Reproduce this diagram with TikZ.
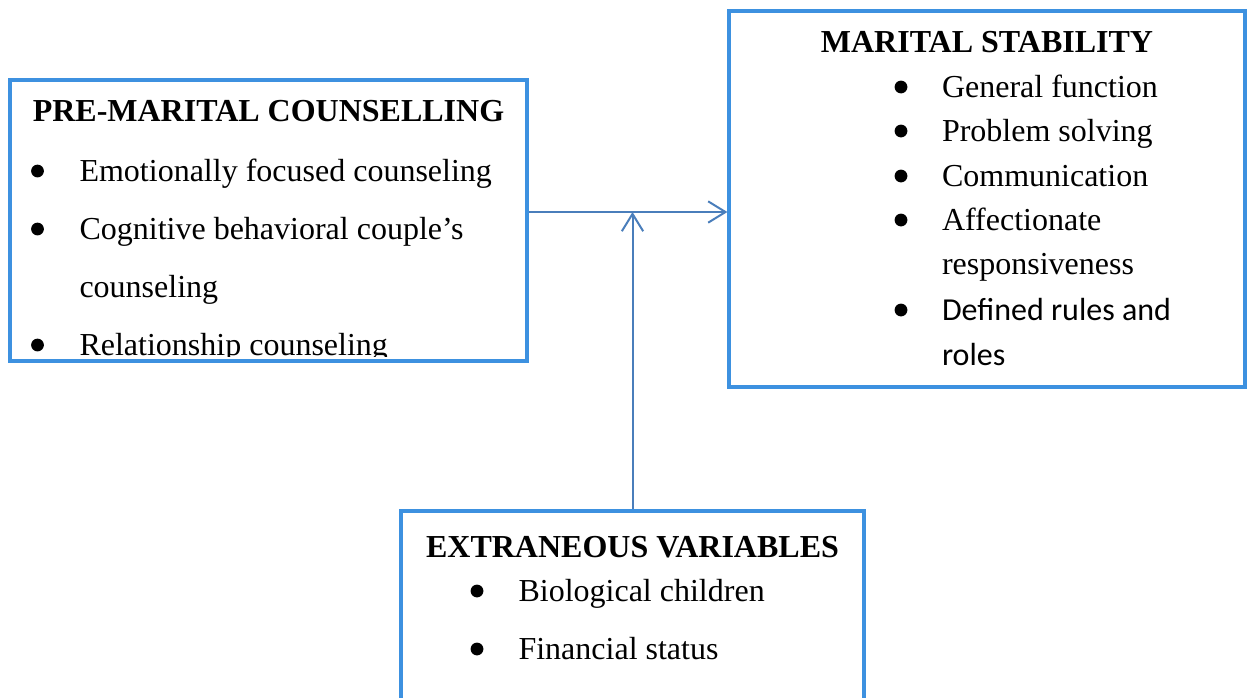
\documentclass[tikz,border=0pt]{standalone}
\usepackage{fontspec}
\setmainfont{Liberation Serif}
\newfontfamily\calfont{Carlito}
\usetikzlibrary{arrows.meta}
\definecolor{boxblue}{RGB}{61,145,224}
\definecolor{lineblue}{RGB}{74,126,187}
\tikzset{
  box/.style={draw=boxblue, line width=1.2pt, inner sep=0pt},
  conn/.style={lineblue, line width=0.75pt, -{Straight Barb[length=6.5pt,width=8pt]}},
  head/.style={anchor=base, inner sep=0pt, font=\fontsize{12}{14}\selectfont\bfseries},
  item/.style={anchor=base west, inner sep=0pt, font=\fontsize{12}{14}\selectfont},
  dot/.style={circle, fill=black, inner sep=0pt, minimum size=4.8pt}
}
\begin{document}
\begin{tikzpicture}[x=0.375pt, y=-0.375pt]
  \useasboundingbox (0,0) rectangle (1248,697);
  \clip (0,0) rectangle (1248,697);
  % boxes
  \node[box, minimum width=193.9pt, minimum height=105.4pt] (pmc) at (268.5,220.5) {};
  \node[box, minimum width=193.5pt, minimum height=141pt] (ms) at (987,199) {};
  \node[box, minimum width=173.6pt, minimum height=75pt] (ev) at (632.5,611) {};
  % pre-marital counselling
  \node[head] (pmchead) at (268.5,121) {PRE-MARITAL COUNSELLING};
  \node[dot] (pmcd1) at (37.5,171) {};
  \node[item] (pmc1) at (79,181) {Emotionally focused counseling};
  \node[dot] (pmcd2) at (37.5,229) {};
  \node[item] (pmc2) at (79,239) {Cognitive behavioral couple’s};
  \node[item] (pmc2b) at (79,297) {counseling};
  \begin{scope}
    \clip (0,0) rectangle (527,356);
    \node[dot] (pmcd3) at (37.5,345) {};
    \node[item] (pmc3) at (79,355) {Relationship counseling};
  \end{scope}
  % marital stability
  \node[head] (mshead) at (987,52) {MARITAL STABILITY};
  \foreach \y/\txt [count=\i] in {97/General function, 141/Problem solving,
      186/Communication, 230/Affectionate} {
    \node[dot] (msd\i) at (901,\y-10) {};
    \node[item] (ms\i) at (941.5,\y) {\txt};
  }
  \node[item] (ms4b) at (941.5,274) {responsiveness};
  \node[dot] (msd5) at (901,310) {};
  \node[item, font=\fontsize{12}{14}\selectfont\calfont] (ms5) at (941.5,320) {Defined rules and};
  \node[item, font=\fontsize{12}{14}\selectfont\calfont] (ms5b) at (941.5,365) {roles};
  % extraneous variables
  \node[head] (evhead) at (632.5,557) {EXTRANEOUS VARIABLES};
  \node[dot] (evd1) at (477,591) {};
  \node[item] (ev1) at (518,601) {Biological children};
  \node[dot] (evd2) at (477,649) {};
  \node[item] (ev2) at (518,659) {Financial status};
  % connectors
  \coordinate (jn) at (632.5,212);
  \draw[conn] (pmc.east |- jn) -- (ms.west |- jn);
  \draw[conn] (ev.north) -- (jn);
\end{tikzpicture}
\end{document}
